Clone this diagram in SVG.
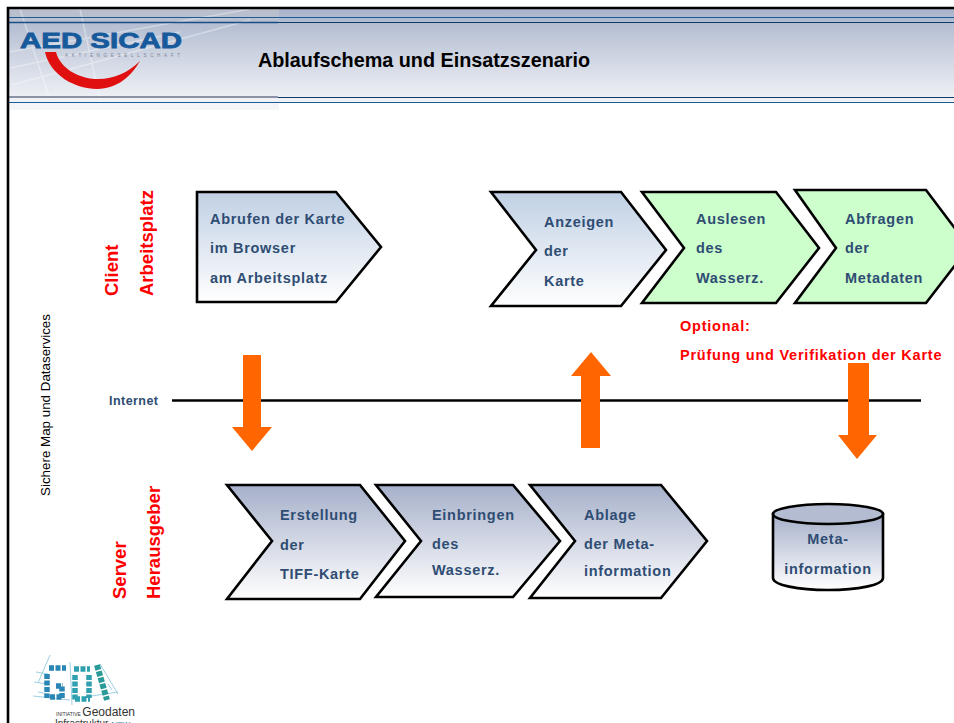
<svg xmlns="http://www.w3.org/2000/svg" width="954" height="723" viewBox="0 0 954 723">
<style>
.s{stroke:#000;stroke-width:2.6;stroke-linejoin:miter}
.t{font:bold 14.5px "Liberation Sans",Arial,sans-serif;fill:#2f4d73;letter-spacing:.7px}
.r{font:bold 18.500px "Liberation Sans",Arial,sans-serif;fill:#f00}
.o{font:bold 14.5px "Liberation Sans",Arial,sans-serif;fill:#f00;letter-spacing:.77px}
.a{fill:#f60}
</style>
<defs>
<linearGradient id="top" x1="0" y1="0" x2="0" y2="1"><stop offset="0" stop-color="#c0d0e4"/><stop offset="1" stop-color="#fff"/></linearGradient>
<linearGradient id="srv" x1="0" y1="0" x2="0" y2="1"><stop offset="0" stop-color="#a6b0ca"/><stop offset="1" stop-color="#fff"/></linearGradient>
<linearGradient id="hd" x1="0" y1="0" x2="0" y2="1"><stop offset="0" stop-color="#a9b4cb"/><stop offset="1" stop-color="#f1f3f7"/></linearGradient>
</defs>
<rect width="954" height="723" fill="#fff"/>
<g id="header">
<rect x="9" y="9" width="945" height="93" fill="url(#hd)"/>
<rect x="9" y="9" width="270" height="12" fill="#b9bfcd"/>
<g fill="none" stroke="#fff" stroke-opacity=".35" stroke-width="1.500">
<path d="M9 52 250 9M12 85 250 20M20 9 50 100M80 9 100 100M10 68 180 32"/>
</g>
<path d="M9 17.500H954M9 102.500H954" stroke="#1a5b9a" stroke-width="1" fill="none"/>
<path d="M9 22.500H278" stroke="#1a4f86" stroke-width="1.500" fill="none"/>
<path d="M278 22.500H954M278 97.500H954" stroke="#123a66" stroke-width="1" fill="none"/>
<path d="M9 97H278" stroke="#6a7488" stroke-width="1.500" fill="none"/>
<rect x="9" y="103" width="270" height="7" fill="#f3f5f8"/>
</g>
<g id="frame"><path d="M8 723V8H954" fill="none" stroke="#000" stroke-width="2.600"/></g>
<g id="logo-aed">
<path d="M45 52C50 75 75 89 97 89C118 89 132 75 140 61C128 73 112 80 95 79C78 78 60 68 56 52Z" fill="#e01010"/>
<text x="20" y="47.500" font-family="Liberation Sans,Arial,sans-serif" font-size="22" font-weight="bold" fill="#175a9c" stroke="#175a9c" stroke-width=".8" textLength="162" lengthAdjust="spacingAndGlyphs">AED SICAD</text>
<text x="65" y="56.500" font-family="Liberation Sans,Arial,sans-serif" font-size="4.500" fill="#7b8598" textLength="115">AKTIENGESELLSCHAFT</text>
</g>
<text id="title" x="258" y="67" font-family="Liberation Sans,Arial,sans-serif" font-size="20" font-weight="bold" fill="#000" textLength="332" lengthAdjust="spacingAndGlyphs">Ablaufschema und Einsatzszenario</text>
<text id="side" transform="translate(50 496) rotate(-90)" font-family="Liberation Sans,Arial,sans-serif" font-size="12" fill="#000" textLength="182" lengthAdjust="spacingAndGlyphs">Sichere Map und Dataservices</text>
<g id="lane-client"><text class="r" transform="translate(118 296) rotate(-90)">Client</text><text class="r" transform="translate(153 296) rotate(-90)">Arbeitsplatz</text></g>
<g id="lane-server"><text class="r" transform="translate(126 599) rotate(-90)">Server</text><text class="r" transform="translate(160 599) rotate(-90)">Herausgeber</text></g>
<g id="connectors">
<path d="M172 400.500H921" stroke="#000" stroke-width="2.400" fill="none"/>
<path class="a" d="M243 355H261V427H272L252 451 232 427H243Z"/>
<path class="a" d="M581 448H600V376H611L591 352 571 376H581Z"/>
<path class="a" d="M848 363H869V435H877L857 459 838 435H848Z"/>
</g>
<text id="internet" x="109" y="405" font-family="Liberation Sans,Arial,sans-serif" font-size="12.500" font-weight="bold" fill="#2f4d73" textLength="49">Internet</text>
<g id="n1"><path class="s" fill="url(#top)" d="M197 192H336L381 247 336 302H197Z"/><text class="t" x="210" y="224">Abrufen der Karte</text><text class="t" x="210" y="253">im Browser</text><text class="t" x="210" y="283">am Arbeitsplatz</text></g>
<g id="n2"><path class="s" fill="url(#top)" d="M491 192H621L666 250 621 306H491L536 250Z"/><text class="t" x="544" y="227">Anzeigen</text><text class="t" x="544" y="256">der</text><text class="t" x="544" y="286">Karte</text></g>
<g id="n3"><path class="s" fill="#ccffcc" d="M642 192H776L819 248 776 303H642L684 248Z"/><text class="t" x="696" y="224">Auslesen</text><text class="t" x="696" y="253">des</text><text class="t" x="696" y="283">Wasserz.</text></g>
<g id="n4"><path class="s" fill="#ccffcc" d="M795 190H926L969 247 926 303H795L836 248Z"/><text class="t" x="845" y="224">Abfragen</text><text class="t" x="845" y="253">der</text><text class="t" x="845" y="283">Metadaten</text></g>
<g id="n5"><path class="s" fill="url(#srv)" d="M227 485H360L405 541 360 599H227L272 541Z"/><text class="t" x="280" y="520">Erstellung</text><text class="t" x="280" y="550">der</text><text class="t" x="280" y="579">TIFF-Karte</text></g>
<g id="n6"><path class="s" fill="url(#srv)" d="M376 485H513L560 541 513 597H376L421 541Z"/><text class="t" x="432" y="520">Einbringen</text><text class="t" x="432" y="549">des</text><text class="t" x="432" y="575">Wasserz.</text></g>
<g id="n7"><path class="s" fill="url(#srv)" d="M530 485H661L707 541 661 598H530L575 541Z"/><text class="t" x="584" y="520">Ablage</text><text class="t" x="584" y="549">der Meta-</text><text class="t" x="584" y="576">information</text></g>
<g id="n8"><path class="s" stroke-linejoin="round" fill="url(#srv)" d="M773 514V578C773 585 798 590 828 590S883 585 883 578V514Z"/><ellipse class="s" cx="828" cy="514" rx="55" ry="10" fill="#b4bcd2"/><text class="t" x="828" y="544" text-anchor="middle">Meta-</text><text class="t" x="828" y="574" text-anchor="middle">information</text></g>
<g id="optional"><text class="o" x="680" y="331">Optional:</text><text class="o" x="680" y="360">Prüfung und Verifikation der Karte</text></g>
<g id="logo-gdi">
<g fill="none" stroke="#9fd0e2" stroke-width="1"><path d="M50 655 38 683M33 696 70 700M36 672 48 674M34 682 48 684M38 692 48 694M85 697 118 692M100 664 118 694M108 684 112 690M70 662 72 705"/></g>
<g fill="none" stroke="#2a87b5" stroke-width="5.500" stroke-dasharray="5 1.500">
<path d="M49 668H66M47 674V698M50 697H62M62 698V685M56 686H63"/>
</g>
<g fill="none" stroke="#2fa0b0" stroke-width="5.500" stroke-dasharray="5 1.500">
<path d="M74 669H90M75 675V700M89 675V698M75 699H90"/>
</g>
<path fill="none" stroke="#2a9a98" stroke-width="6" stroke-dasharray="5 1.500" d="M97 665 107 700"/>
<text x="56" y="716" font-family="Liberation Sans,Arial,sans-serif" font-size="12" fill="#333"><tspan font-size="5">INITIATIVE </tspan>Geodaten</text>
<text x="55" y="727" font-family="Liberation Sans,Arial,sans-serif" font-size="10" fill="#333">Infrastruktur <tspan fill="#2a87b5" font-size="8">NRW</tspan></text>
</g>
</svg>
